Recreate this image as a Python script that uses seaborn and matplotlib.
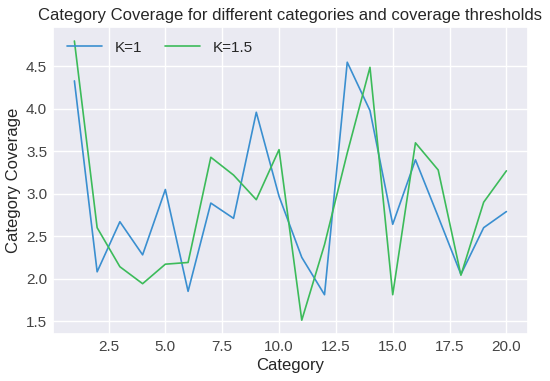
import matplotlib
matplotlib.use("Agg")
import matplotlib.pyplot as plt
import seaborn as sns
import pandas as pd

categories = list(range(1, 21))
k1_values = [4.33, 2.08, 2.67, 2.28, 3.05, 1.85, 2.89, 2.71, 3.96, 2.97,
             2.25, 1.81, 4.55, 3.98, 2.64, 3.40, 2.73, 2.05, 2.60, 2.79]
k15_values = [4.80, 2.60, 2.14, 1.94, 2.17, 2.19, 3.43, 3.22, 2.93, 3.52,
              1.51, 2.40, 3.48, 4.49, 1.81, 3.60, 3.28, 2.04, 2.90, 3.27]
series_names = ["K=1", "K=1.5"]

df = pd.DataFrame({
    "Category": categories * 2,
    "Coverage": k1_values + k15_values,
    "K": [series_names[0]] * 20 + [series_names[1]] * 20,
})

sns.set_theme(style="darkgrid")
plt.rcParams["font.family"] = ["Liberation Sans", "DejaVu Sans"]

fig, ax = plt.subplots(figsize=(5.5, 3.81), dpi=100)
sns.lineplot(data=df, x="Category", y="Coverage", hue="K",
             palette=["#3a8fd0", "#3cbb5a"], linewidth=1.2, ax=ax)

ax.set_title("Category Coverage for different categories and coverage thresholds",
             fontsize=12, pad=5)
ax.set_xlabel("Category", fontsize=12, labelpad=3)
ax.set_ylabel("Category Coverage", fontsize=12, labelpad=4)
ax.tick_params(labelsize=11, colors="#444444", length=0, pad=4)
ax.legend(title=None, ncol=2, loc="upper left", frameon=False, fontsize=11,
          columnspacing=1.5, handlelength=2.3, handletextpad=0.85)

fig.subplots_adjust(left=0.096, right=0.96, top=0.929, bottom=0.123)
fig.savefig("out.png", dpi=100)
